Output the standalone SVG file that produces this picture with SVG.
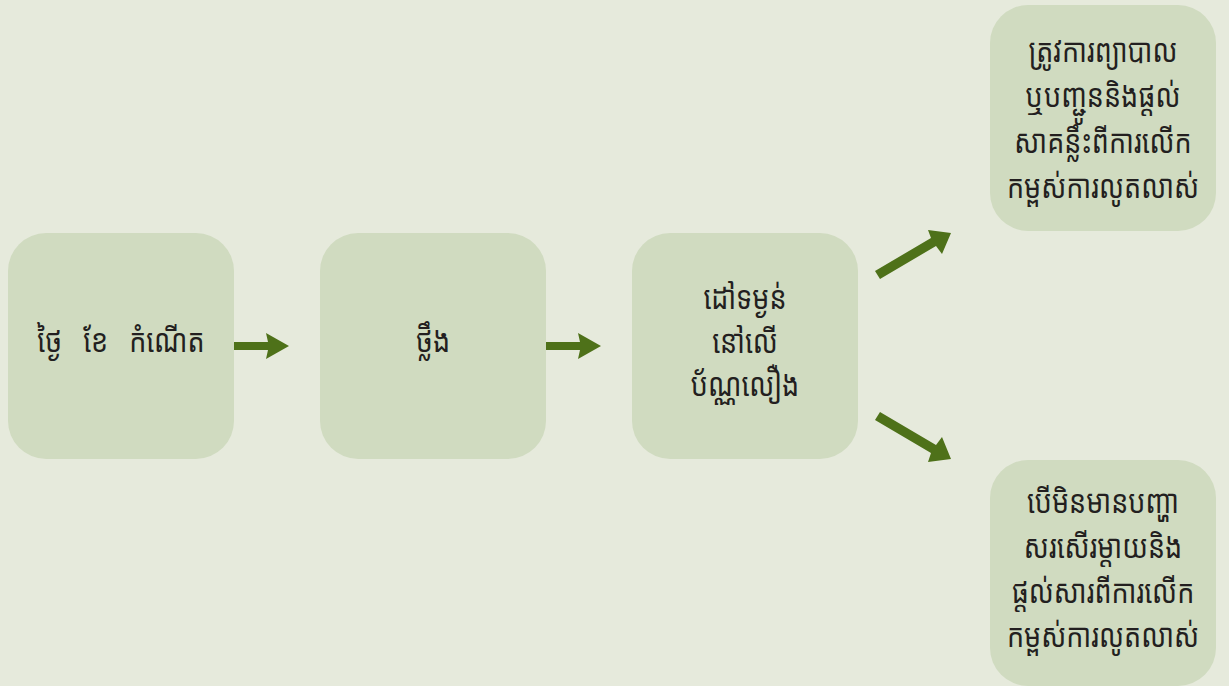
<svg xmlns="http://www.w3.org/2000/svg" width="1229" height="686" viewBox="0 0 1229 686">
<style>
.node{fill:#d0dbc0}
.t{font-family:"Noto Sans Khmer","Noto Serif Khmer","Khmer OS","DejaVu Sans",sans-serif;font-size:27px;fill:#231f20;text-anchor:middle}
.arr{fill:#4e7119}
</style>
<rect width="1229" height="686" fill="#e6eadc"/>
<g id="node-birth">
<rect class="node" x="8" y="233" width="226" height="226" rx="38"/>
<text class="t" transform="translate(121,352) scale(1,1.22)" word-spacing="14">ថ្ងៃ ខែ កំណើត</text>
</g>
<g id="node-weigh">
<rect class="node" x="320" y="233" width="226" height="226" rx="38"/>
<text class="t" transform="translate(433,352) scale(1,1.22)">ថ្លឹង</text>
</g>
<g id="node-plot">
<rect class="node" x="632" y="233" width="226" height="226" rx="38"/>
<text class="t" transform="translate(745,309) scale(1,1.22)">ដៅទម្ងន់</text>
<text class="t" transform="translate(745,353) scale(1,1.22)">នៅលើ</text>
<text class="t" transform="translate(745,396) scale(1,1.22)">ប័ណ្ណលឿង</text>
</g>
<g id="node-refer">
<rect class="node" x="990" y="5" width="226" height="226" rx="38"/>
<text class="t" transform="translate(1103,62) scale(1,1.22)">ត្រូវការព្យាបាល</text>
<text class="t" transform="translate(1103,107) scale(1,1.22)">ឬបញ្ជូននិងផ្តល់</text>
<text class="t" transform="translate(1103,153) scale(1,1.22)">សាគន្លឹះពីការលើក</text>
<text class="t" transform="translate(1103,198) scale(1,1.22)">កម្ពស់ការលូតលាស់</text>
</g>
<g id="node-praise">
<rect class="node" x="990" y="460" width="226" height="226" rx="38"/>
<text class="t" transform="translate(1103,513) scale(1,1.22)">បើមិនមានបញ្ហា</text>
<text class="t" transform="translate(1103,558) scale(1,1.22)">សរសើរម្តាយនិង</text>
<text class="t" transform="translate(1103,603) scale(1,1.22)">ផ្តល់សារពីការលើក</text>
<text class="t" transform="translate(1103,647) scale(1,1.22)">កម្ពស់ការលូតលាស់</text>
</g>
<g id="connectors">
<path class="arr" d="M234,342 L268,342 L266,333 L289,346 L266,359 L268,350 L234,350 Z"/>
<path class="arr" d="M546,342 L580,342 L578,333 L601,346 L578,359 L580,350 L546,350 Z"/>
<path class="arr" d="M875,271 L931,238 L928,230 L951,233 L942,254 L936,246 L880,279 Z"/>
<path class="arr" d="M880,412 L936,445 L942,437 L951,459 L928,462 L931,453 L875,420 Z"/>
</g>
</svg>
